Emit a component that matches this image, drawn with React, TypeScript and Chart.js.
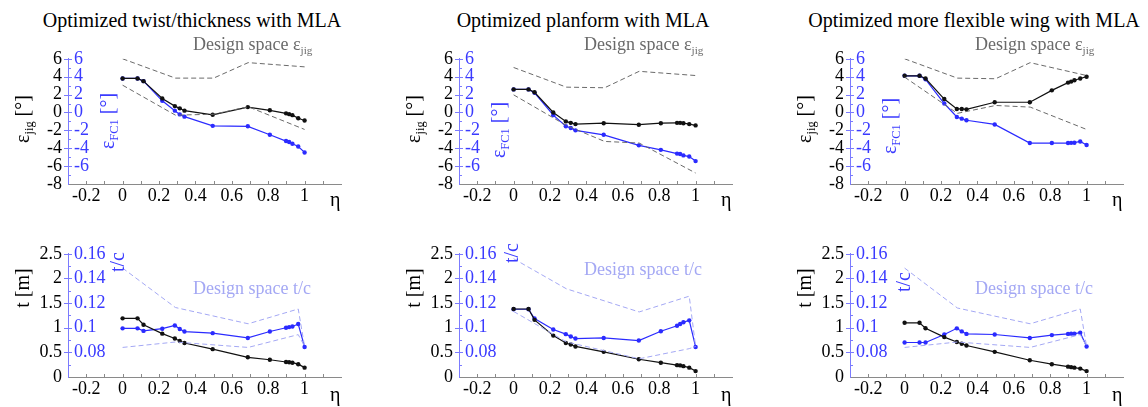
import React, { useEffect, useRef } from "react";
import { Chart, registerables } from "chart.js";
Chart.register(...registerables);

// ---------- data ----------
const ETA = [0, 0.082, 0.115, 0.218, 0.287, 0.314, 0.34, 0.495, 0.688, 0.809, 0.898, 0.915, 0.933, 0.965, 1];

const DS_EPS_ETA = [0, 0.29, 0.5, 0.69, 1];
const DS_TC_ETA = [0, 0.29, 0.69, 0.965, 1];

// Panel 1: twist/thickness
const P1_EPS_JIG = [3.8, 3.8, 3.5, 1.57, 0.71, 0.46, 0.2, -0.26, 0.6, 0.24, -0.1, -0.19, -0.3, -0.65, -0.9];
const P1_EPS_FC1 = [3.8, 3.8, 3.5, 1.3, 0.2, -0.22, -0.47, -1.5, -1.55, -2.5, -3.2, -3.3, -3.5, -3.8, -4.47];
const P1_DS_EPS_UP = [6.0, 3.84, 3.84, 5.57, 5.1];
const P1_DS_EPS_LO = [3.05, -0.3, -0.2, 0.64, -1.9];
const P1_T = [1.19, 1.19, 1.06, 0.88, 0.78, 0.73, 0.69, 0.565, 0.4, 0.35, 0.305, 0.3, 0.29, 0.26, 0.19];
const P1_TC = [0.0995, 0.0995, 0.0974, 0.0992, 0.1018, 0.099, 0.0969, 0.0956, 0.0917, 0.0969, 0.1, 0.1005, 0.101, 0.103, 0.0844];
const P1_DS_TC_UP = [0.1484, 0.1164, 0.1032, 0.1152, 0.0848];
const P1_DS_TC_LO = [0.084, 0.0884, 0.084, 0.0944, 0.0848];

// Panel 2: planform
const P2_EPS_JIG = [2.58, 2.58, 2.26, 0.0, -1.0, -1.16, -1.3, -1.2, -1.37, -1.2, -1.16, -1.16, -1.2, -1.3, -1.45];
const P2_EPS_FC1 = [2.58, 2.58, 2.2, -0.3, -1.55, -1.73, -2.0, -2.5, -3.68, -4.18, -4.6, -4.65, -4.8, -4.93, -5.44];
const P2_DS_EPS_UP = [5.03, 2.83, 2.76, 4.6, 4.13];
const P2_DS_EPS_LO = [1.97, -1.45, -3.24, -3.42, -6.77];
const P2_T = [1.38, 1.38, 1.16, 0.84, 0.69, 0.66, 0.62, 0.51, 0.36, 0.29, 0.24, 0.235, 0.22, 0.19, 0.12];
const P2_TC = [0.115, 0.115, 0.1075, 0.0985, 0.0948, 0.0929, 0.0912, 0.0917, 0.0896, 0.0971, 0.1016, 0.103, 0.1044, 0.106, 0.0844];
const P2_DS_TC_UP = [0.156, 0.1316, 0.1128, 0.1256, 0.0848];
const P2_DS_TC_LO = [0.1132, 0.0885, 0.0748, 0.083, 0.0848];

// Panel 3: more flexible wing
const P3_EPS_JIG = [4.1, 4.1, 3.8, 1.5, 0.39, 0.39, 0.35, 1.14, 1.14, 2.47, 3.34, 3.45, 3.6, 3.8, 4.0];
const P3_EPS_FC1 = [4.1, 4.1, 3.7, 1.0, -0.51, -0.69, -0.87, -1.34, -3.42, -3.42, -3.42, -3.4, -3.38, -3.24, -3.64];
const P3_DS_EPS_UP = [6.0, 3.84, 3.77, 5.57, 4.13];
const P3_DS_EPS_LO = [3.95, -0.1, 0.78, 0.6, -1.9];
const P3_T = [1.1, 1.1, 0.99, 0.81, 0.71, 0.675, 0.64, 0.51, 0.34, 0.26, 0.21, 0.2, 0.19, 0.17, 0.12];
const P3_TC = [0.088, 0.088, 0.088, 0.0945, 0.0995, 0.097, 0.095, 0.0945, 0.0917, 0.094, 0.095, 0.0952, 0.0952, 0.096, 0.0847];
const P3_DS_TC_UP = [0.1484, 0.116, 0.1032, 0.1152, 0.0848];
const P3_DS_TC_LO = [0.084, 0.0884, 0.084, 0.0944, 0.0848];

// ticks
const X_TICKS = [-0.2, 0, 0.2, 0.4, 0.6, 0.8, 1];
const X_MINOR = [-0.2, -0.1, 0, 0.1, 0.2, 0.3, 0.4, 0.5, 0.6, 0.7, 0.8, 0.9, 1, 1.1];
const EPS_TICKS = [6, 4, 2, 0, -2, -4, -6, -8];
const EPS_FC1_TICKS = [6, 4, 2, 0, -2, -4, -6];
const EPS_MINOR = [5, 3, 1, -1, -3, -5, -7];
const T_TICKS = [2.5, 2, 1.5, 1, 0.5, 0];
const TC_TICKS = [0.16, 0.14, 0.12, 0.1, 0.08];
const TC_MINOR = [0.15, 0.13, 0.11, 0.09, 0.07];

const TITLES = [
  "Optimized twist/thickness with MLA",
  "Optimized planform with MLA",
  "Optimized more flexible wing with MLA",
];

// ---------- styles ----------
const SERIF = "Liberation Serif";
const BLUE = "#2b2bff";
const BLUE_TXT = "#3a3aff";
const BLUE_AXIS = "#7b7bff";
const LIGHT_BLUE = "#a4a8f4";
const GRAY_DASH = "#6a6a6a";
const TICK_SIZE = 18;

Chart.defaults.font.family = SERIF;
Chart.defaults.font.size = TICK_SIZE;

const AREA_LEFTS = [68, 459, 850];
const AREA_W = 273;
const PAD_TOP = 12;
const PAD_RIGHT = 10;
const YAX_W = 60;
const XAX_H = 30;

const fmt = (v: number) => String(Math.round(v * 1000) / 1000);

const tickPlugin = {
  id: "tickmarks",
  afterDraw(chart: any) {
    const opts = chart.options.plugins.tickmarks;
    if (!opts) return;
    const { ctx, chartArea } = chart;
    const x = chart.scales.x;
    const y2 = chart.scales.y2;
    ctx.save();
    ctx.lineWidth = 1;
    ctx.strokeStyle = "#8a8a8a";
    for (const v of X_MINOR) {
      const px = Math.round(x.getPixelForValue(v)) + 0.5;
      ctx.beginPath();
      ctx.moveTo(px, chartArea.bottom);
      ctx.lineTo(px, chartArea.bottom - 3);
      ctx.stroke();
    }
    ctx.strokeStyle = BLUE_AXIS;
    const lx = chartArea.left;
    for (const v of opts.major) {
      const py = Math.round(y2.getPixelForValue(v)) + 0.5;
      ctx.beginPath();
      ctx.moveTo(lx - 4, py);
      ctx.lineTo(lx + 4, py);
      ctx.stroke();
    }
    for (const v of opts.minor) {
      const py = Math.round(y2.getPixelForValue(v)) + 0.5;
      ctx.beginPath();
      ctx.moveTo(lx, py);
      ctx.lineTo(lx + 3, py);
      ctx.stroke();
    }
    ctx.restore();
  },
};

type PanelCfg = {
  left: number;
  top: number;
  areaH: number;
  yMin: number;
  yMax: number;
  yTicks: number[];
  y2Min: number;
  y2Max: number;
  y2Ticks: number[];
  y2Minor: number[];
  blackData: number[];
  blueData: number[];
  dsUp: number[];
  dsLo: number[];
  dsEta: number[];
  dsColor: string;
  dsAxis: string;
};

const pts = (xs: number[], ys: number[]) => xs.map((x, i) => ({ x, y: ys[i] }));

function Panel({ cfg }: { cfg: PanelCfg }) {
  const ref = useRef<HTMLCanvasElement | null>(null);
  const w = YAX_W + AREA_W + PAD_RIGHT;
  const h = PAD_TOP + cfg.areaH + XAX_H;
  useEffect(() => {
    if (!ref.current) return;
    const font = { family: SERIF, size: TICK_SIZE };
    const dash = (data: any[], color: string, axis: string) => ({
      data,
      yAxisID: axis,
      borderColor: color,
      borderWidth: 1,
      borderDash: [5, 3],
      pointRadius: 0,
      fill: false,
    });
    const chart = new Chart(ref.current, {
      type: "line",
      data: {
        datasets: [
          dash(pts(cfg.dsEta, cfg.dsUp), cfg.dsColor, cfg.dsAxis),
          dash(pts(cfg.dsEta, cfg.dsLo), cfg.dsColor, cfg.dsAxis),
          {
            data: pts(ETA, cfg.blackData),
            yAxisID: "y",
            borderColor: "#111",
            backgroundColor: "#111",
            borderWidth: 1.2,
            pointRadius: 2.2,
            pointBorderWidth: 0,
            pointBackgroundColor: "#111",
          },
          {
            data: pts(ETA, cfg.blueData),
            yAxisID: "y2",
            borderColor: BLUE,
            backgroundColor: BLUE,
            borderWidth: 1.2,
            pointRadius: 2.2,
            pointBorderWidth: 0,
            pointBackgroundColor: BLUE,
          },
        ],
      },
      options: {
        animation: false,
        responsive: false,
        maintainAspectRatio: false,
        events: [],
        layout: { padding: { top: PAD_TOP, right: PAD_RIGHT, left: 0, bottom: 0 } },
        plugins: {
          legend: { display: false },
          tooltip: { enabled: false },
          tickmarks: { major: cfg.y2Ticks, minor: cfg.y2Minor },
        } as any,
        scales: {
          x: {
            type: "linear",
            min: -0.3,
            max: 1.2,
            position: "bottom",
            afterBuildTicks: (s: any) => {
              s.ticks = X_TICKS.map((v) => ({ value: v }));
            },
            afterFit: (s: any) => {
              s.height = XAX_H;
            },
            grid: { display: false, drawTicks: false },
            border: { display: true, color: "#8a8a8a", width: 1 },
            ticks: { color: "#000", font, padding: 1, autoSkip: false, maxRotation: 0, callback: (v: any) => fmt(Number(v)) },
          },
          y: {
            type: "linear",
            position: "left",
            weight: 2,
            min: cfg.yMin,
            max: cfg.yMax,
            afterBuildTicks: (s: any) => {
              s.ticks = cfg.yTicks.map((v) => ({ value: v }));
            },
            afterFit: (s: any) => {
              s.width = YAX_W;
            },
            grid: { display: false, drawTicks: false },
            border: { display: false },
            ticks: { color: "#000", font, padding: 6, autoSkip: false, callback: (v: any) => fmt(Number(v)) },
          },
          y2: {
            type: "linear",
            position: "left",
            weight: 1,
            min: cfg.y2Min,
            max: cfg.y2Max,
            afterBuildTicks: (s: any) => {
              s.ticks = cfg.y2Ticks.map((v) => ({ value: v }));
            },
            afterFit: (s: any) => {
              s.width = 0;
            },
            grid: { display: false, drawTicks: false },
            border: { display: true, color: BLUE_AXIS, width: 1 },
            ticks: { color: BLUE_TXT, font, padding: 6, mirror: true, autoSkip: false, callback: (v: any) => fmt(Number(v)) },
          },
        } as any,
      },
      plugins: [tickPlugin as any],
    } as any);
    return () => chart.destroy();
  }, []);
  return (
    <canvas
      ref={ref}
      width={w}
      height={h}
      style={{ position: "absolute", left: cfg.left - YAX_W, top: cfg.top - PAD_TOP, width: w, height: h }}
    />
  );
}

const TOP_AREA_TOP = 54;
const TOP_AREA_H = 130;
const BOT_AREA_TOP = 249;
const BOT_AREA_H = 128;

const topPanel = (i: number, black: number[], blue: number[], up: number[], lo: number[]): PanelCfg => ({
  left: AREA_LEFTS[i],
  top: TOP_AREA_TOP,
  areaH: TOP_AREA_H,
  yMin: -8,
  yMax: 6,
  yTicks: EPS_TICKS,
  y2Min: -8,
  y2Max: 6,
  y2Ticks: EPS_FC1_TICKS,
  y2Minor: EPS_MINOR,
  blackData: black,
  blueData: blue,
  dsUp: up,
  dsLo: lo,
  dsEta: DS_EPS_ETA,
  dsColor: GRAY_DASH,
  dsAxis: "y",
});

const botPanel = (i: number, black: number[], blue: number[], up: number[], lo: number[]): PanelCfg => ({
  left: AREA_LEFTS[i],
  top: BOT_AREA_TOP,
  areaH: BOT_AREA_H,
  yMin: 0,
  yMax: 2.5,
  yTicks: T_TICKS,
  y2Min: 0.06,
  y2Max: 0.16,
  y2Ticks: TC_TICKS,
  y2Minor: TC_MINOR,
  blackData: black,
  blueData: blue,
  dsUp: up,
  dsLo: lo,
  dsEta: DS_TC_ETA,
  dsColor: LIGHT_BLUE,
  dsAxis: "y2",
});

const PANELS: PanelCfg[] = [
  topPanel(0, P1_EPS_JIG, P1_EPS_FC1, P1_DS_EPS_UP, P1_DS_EPS_LO),
  topPanel(1, P2_EPS_JIG, P2_EPS_FC1, P2_DS_EPS_UP, P2_DS_EPS_LO),
  topPanel(2, P3_EPS_JIG, P3_EPS_FC1, P3_DS_EPS_UP, P3_DS_EPS_LO),
  botPanel(0, P1_T, P1_TC, P1_DS_TC_UP, P1_DS_TC_LO),
  botPanel(1, P2_T, P2_TC, P2_DS_TC_UP, P2_DS_TC_LO),
  botPanel(2, P3_T, P3_TC, P3_DS_TC_UP, P3_DS_TC_LO),
];

const FC1_Y = [120.5, 130, 126];
const TC_LBL = [
  { dx: 49, y: 262 },
  { dx: 52, y: 253 },
  { dx: 53, y: 282 },
];
const DS_TC_TOP = [279, 260, 279];

const subStyle: React.CSSProperties = { fontSize: "0.62em", verticalAlign: "-0.35em", lineHeight: 0 };

function Rot({ x, y, color, children, size = 20 }: any) {
  return (
    <div
      style={{
        position: "absolute",
        left: x,
        top: y,
        transform: "translate(-50%, -50%) rotate(-90deg)",
        whiteSpace: "nowrap",
        fontFamily: SERIF,
        fontSize: size,
        lineHeight: "20px",
        color,
      }}
    >
      {children}
    </div>
  );
}

function Txt({ x, y, color, size, children, center }: any) {
  return (
    <div
      style={{
        position: "absolute",
        left: x,
        top: y,
        transform: center ? "translateX(-50%)" : undefined,
        whiteSpace: "nowrap",
        fontFamily: SERIF,
        fontSize: size,
        lineHeight: `${size}px`,
        color,
      }}
    >
      {children}
    </div>
  );
}

export default function App() {
  return (
    <div style={{ position: "absolute", left: 0, top: 0, width: 1148, height: 407, background: "#fff", overflow: "hidden" }}>
      {PANELS.map((p, i) => (
        <Panel key={i} cfg={p} />
      ))}
      {AREA_LEFTS.map((L, i) => (
        <React.Fragment key={i}>
          <Txt x={L + 124} y={10} size={20} color="#000" center>
            {TITLES[i]}
          </Txt>
          <Txt x={L + 125} y={35} size={18} color={GRAY_DASH}>
            Design space ε<span style={subStyle}>jig</span>
          </Txt>
          <Rot x={L - 46} y={119} color="#000">
            ε<span style={subStyle}>jig</span> [°]
          </Rot>
          <Rot x={L + 39} y={FC1_Y[i]} color={BLUE_TXT}>
            ε<span style={subStyle}>FC1</span> [°]
          </Rot>
          <Txt x={L + 262} y={189} size={20} color="#000">
            η
          </Txt>
          <Rot x={L - 46} y={288} color="#000">
            t [m]
          </Rot>
          <Rot x={L + TC_LBL[i].dx} y={TC_LBL[i].y} color={BLUE_TXT}>
            t/c
          </Rot>
          <Txt x={L + 125} y={DS_TC_TOP[i]} size={18} color={LIGHT_BLUE}>
            Design space t/c
          </Txt>
          <Txt x={L + 262} y={384} size={20} color="#000">
            η
          </Txt>
        </React.Fragment>
      ))}
    </div>
  );
}
